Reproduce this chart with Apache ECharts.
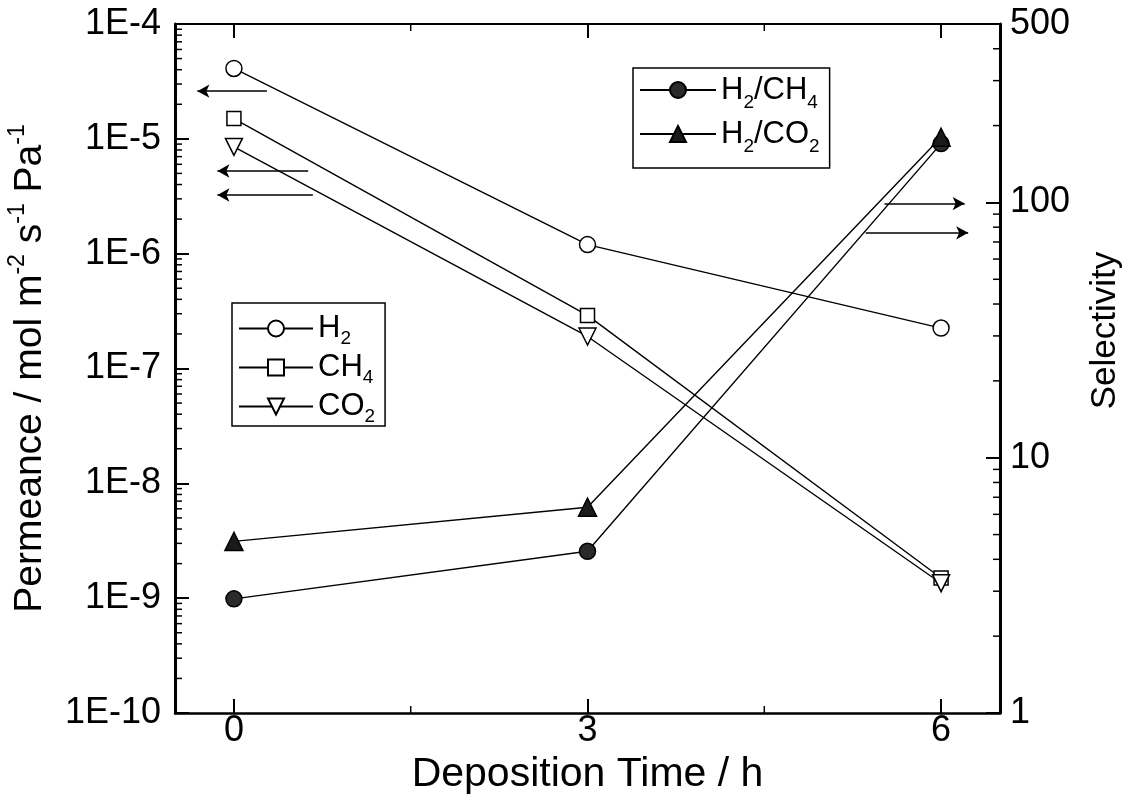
<!DOCTYPE html>
<html>
<head>
<meta charset="utf-8">
<script src="https://cdn.jsdelivr.net/npm/echarts@6/dist/echarts.min.js"></script>
<style>
  html, body { margin: 0; padding: 0; background: #fff; }
  #chart { width: 1130px; height: 808px; }
</style>
</head>
<body>
<div id="chart"></div>
<script>
// Deposition time (h)
const depositionTime = [0, 3, 6];

// Permeance (mol m-2 s-1 Pa-1), left log axis
const permeanceH2  = [4.1e-5, 1.2e-6, 2.25e-7];
const permeanceCH4 = [1.5e-5, 2.9e-7, 1.5e-9];
const permeanceCO2 = [8.5e-6, 1.9e-7, 1.35e-9];

// Selectivity, right log axis
const selectivityH2CH4 = [2.8, 4.3, 170];
const selectivityH2CO2 = [4.7, 6.4, 180];

// Axis ranges and tick values
const timeRange = [-0.5, 6.5];
const timeMajorTicks = [0, 3, 6];
const timeMinorTicks = [1.5, 4.5];
const permeanceRange = [1e-10, 1e-4];
const selectivityRange = [1, 500];

// Pointer arrows: which curves belong to which axis (data coordinates)
const leftArrows = [
  { from: [0.28, 2.6e-5], to: [-0.31, 2.6e-5] },
  { from: [0.63, 5.25e-6], to: [-0.14, 5.25e-6] },
  { from: [0.67, 3.24e-6], to: [-0.14, 3.24e-6] }
];
const rightArrows = [
  { from: [5.52, 99], to: [6.2, 99] },
  { from: [5.36, 76], to: [6.23, 76] }
];

// Logarithmic minor tick values (2..9 per decade) inside a range
function logMinorValues(lo, hi) {
  const out = [];
  for (let e = Math.floor(Math.log10(lo)); e <= Math.ceil(Math.log10(hi)); e++) {
    for (let k = 2; k <= 9; k++) {
      const v = k * Math.pow(10, e);
      if (v > lo * 1.0001 && v < hi * 0.9999) out.push(v);
    }
  }
  return out;
}

const FONT = "'Liberation Sans', Arial, Helvetica, sans-serif";
const BLACK = '#000';
const MINOR_LEN = 7;

const legendNames = {
  'H2': '{m|H}{sub|2}',
  'CH4': '{m|CH}{sub|4}',
  'CO2': '{m|CO}{sub|2}',
  'H2/CH4': '{m|H}{sub|2}{m|/CH}{sub|4}',
  'H2/CO2': '{m|H}{sub|2}{m|/CO}{sub|2}'
};

function pairs(xs, ys) { return xs.map((x, i) => [x, ys[i]]); }

function arrowData(list) {
  return list.map(a => [{ coord: a.from }, { coord: a.to }]);
}

const openStyle = { color: '#fff', borderColor: BLACK, borderWidth: 1.5 };
const lineStyle = { color: BLACK, width: 1.4 };

function legendText(lineH) {
  return {
    color: BLACK,
    fontFamily: FONT,
    fontSize: 31,
    lineHeight: lineH,
    rich: {
      m: { fontSize: 31, lineHeight: lineH, fontFamily: FONT, color: BLACK },
      sub: { fontSize: 19, lineHeight: 19, verticalAlign: 'bottom', fontFamily: FONT, color: BLACK }
    }
  };
}

const legendCommon = {
  orient: 'vertical',
  backgroundColor: '#fff',
  borderColor: BLACK,
  borderWidth: 1.5,
  borderRadius: 0,
  itemGap: 0,
  itemHeight: 20,
  inactiveColor: BLACK,
  selectedMode: false,
  formatter: name => legendNames[name]
};

const tickLabelStyle = { color: BLACK, fontFamily: FONT, fontSize: 36 };

const option = {
  animation: false,
  backgroundColor: '#fff',
  grid: { left: 175, right: 130, top: 24, bottom: 95, containLabel: false, outerBoundsMode: 'none' },
  legend: [
    Object.assign({}, legendCommon, {
      data: ['H2', 'CH4', 'CO2'],
      left: 232, top: 303,
      padding: [6, 10, 0, 6],
      itemWidth: 74,
      textStyle: legendText(39)
    }),
    Object.assign({}, legendCommon, {
      data: ['H2/CH4', 'H2/CO2'],
      left: 633, top: 68,
      padding: [0, 10, 12, 6],
      itemWidth: 76,
      textStyle: legendText(44)
    })
  ],
  xAxis: [
    {
      type: 'value',
      min: timeRange[0], max: timeRange[1],
      position: 'bottom',
      name: 'Deposition Time / h',
      nameLocation: 'middle',
      nameGap: 24,
      nameTextStyle: { color: BLACK, fontFamily: FONT, fontSize: 41 },
      axisLine: { show: true, onZero: false, lineStyle: { color: BLACK, width: 2.5 } },
      axisTick: { show: true, inside: true, length: 14, customValues: timeMajorTicks, lineStyle: { color: BLACK, width: 2 } },
      axisLabel: { show: true, margin: 0, customValues: timeMajorTicks, ...tickLabelStyle },
      splitLine: { show: false }
    },
    {
      type: 'value',
      min: timeRange[0], max: timeRange[1],
      position: 'top',
      axisLine: { show: true, onZero: false, lineStyle: { color: BLACK, width: 2 } },
      axisTick: { show: true, inside: true, length: 14, customValues: timeMajorTicks, lineStyle: { color: BLACK, width: 2 } },
      axisLabel: { show: false },
      splitLine: { show: false }
    }
  ],
  yAxis: [
    {
      type: 'log',
      logBase: 10,
      min: permeanceRange[0], max: permeanceRange[1],
      position: 'left',
      name: 'Permeance / mol m{sup|-2} s{sup|-1} Pa{sup|-1}',
      nameLocation: 'middle',
      nameRotate: 90,
      nameGap: 100,
      nameTextStyle: {
        color: BLACK, fontFamily: FONT, fontSize: 39, lineHeight: 48,
        rich: {
          sup: { fontSize: 23, lineHeight: 23, verticalAlign: 'top', fontFamily: FONT, color: BLACK }
        }
      },
      axisLine: { show: true, onZero: false, lineStyle: { color: BLACK, width: 3 } },
      axisTick: { show: true, inside: true, length: 14, lineStyle: { color: BLACK, width: 2 } },
      axisLabel: {
        show: true, margin: 14, ...tickLabelStyle,
        formatter: v => '1E' + Math.round(Math.log10(v))
      },
      splitLine: { show: false }
    },
    {
      type: 'log',
      logBase: 10,
      min: selectivityRange[0], max: selectivityRange[1],
      position: 'right',
      name: 'Selectivity',
      nameLocation: 'middle',
      nameRotate: 90,
      nameGap: 88,
      nameTextStyle: { color: BLACK, fontFamily: FONT, fontSize: 35, padding: [0, 0, 0, 76] },
      axisLine: { show: true, onZero: false, lineStyle: { color: BLACK, width: 3 } },
      axisTick: { show: true, inside: true, length: 14, lineStyle: { color: BLACK, width: 2 } },
      axisLabel: {
        show: true, margin: 10, ...tickLabelStyle,
        formatter: v => String(Math.round(v))
      },
      splitLine: { show: false }
    }
  ],
  series: [
    {
      name: 'H2', type: 'line', xAxisIndex: 0, yAxisIndex: 0,
      data: pairs(depositionTime, permeanceH2),
      symbol: 'circle', symbolSize: 16,
      itemStyle: openStyle, lineStyle: lineStyle, z: 3,
      markLine: {
        silent: true, animation: false,
        symbol: ['none', 'arrow'], symbolSize: [10, 12],
        lineStyle: { color: BLACK, width: 1.5, type: 'solid' },
        label: { show: false },
        data: arrowData(leftArrows)
      }
    },
    {
      name: 'CH4', type: 'line', xAxisIndex: 0, yAxisIndex: 0,
      data: pairs(depositionTime, permeanceCH4),
      symbol: 'rect', symbolSize: 14,
      itemStyle: openStyle, lineStyle: lineStyle, z: 3
    },
    {
      name: 'CO2', type: 'line', xAxisIndex: 0, yAxisIndex: 0,
      data: pairs(depositionTime, permeanceCO2),
      symbol: 'triangle', symbolRotate: 180, symbolSize: 17,
      itemStyle: openStyle, lineStyle: lineStyle, z: 3
    },
    {
      name: 'H2/CH4', type: 'line', xAxisIndex: 0, yAxisIndex: 1,
      data: pairs(depositionTime, selectivityH2CH4),
      symbol: 'circle', symbolSize: 16,
      itemStyle: { color: '#2a2a2a', borderColor: BLACK, borderWidth: 1.5 },
      lineStyle: lineStyle, z: 4,
      markLine: {
        silent: true, animation: false,
        symbol: ['none', 'arrow'], symbolSize: [10, 12],
        lineStyle: { color: BLACK, width: 1.5, type: 'solid' },
        label: { show: false },
        data: arrowData(rightArrows)
      }
    },
    {
      name: 'H2/CO2', type: 'line', xAxisIndex: 0, yAxisIndex: 1,
      data: pairs(depositionTime, selectivityH2CO2),
      symbol: 'triangle', symbolSize: 18,
      itemStyle: { color: '#1a1a1a', borderColor: BLACK, borderWidth: 1.5 },
      lineStyle: lineStyle, z: 4
    },
    // minor ticks on the permeance axis
    {
      type: 'custom', xAxisIndex: 0, yAxisIndex: 0, silent: true, z: 5,
      data: logMinorValues(permeanceRange[0], permeanceRange[1]).map(v => [timeRange[0], v]),
      renderItem: (params, api) => {
        const p = api.coord([api.value(0), api.value(1)]);
        return { type: 'line', shape: { x1: p[0], y1: p[1], x2: p[0] + MINOR_LEN, y2: p[1] },
                 style: { stroke: BLACK, lineWidth: 1.5 } };
      }
    },
    // minor ticks on the selectivity axis
    {
      type: 'custom', xAxisIndex: 0, yAxisIndex: 1, silent: true, z: 5,
      data: logMinorValues(selectivityRange[0], selectivityRange[1]).map(v => [timeRange[1], v]),
      renderItem: (params, api) => {
        const p = api.coord([api.value(0), api.value(1)]);
        return { type: 'line', shape: { x1: p[0], y1: p[1], x2: p[0] - MINOR_LEN, y2: p[1] },
                 style: { stroke: BLACK, lineWidth: 1.5 } };
      }
    },
    // minor ticks on the time axes (bottom and top)
    {
      type: 'custom', xAxisIndex: 0, yAxisIndex: 0, silent: true, z: 5,
      data: timeMinorTicks.map(t => [t, permeanceRange[0]]),
      renderItem: (params, api) => {
        const b = api.coord([api.value(0), permeanceRange[0]]);
        const t = api.coord([api.value(0), permeanceRange[1]]);
        return {
          type: 'group',
          children: [
            { type: 'line', shape: { x1: b[0], y1: b[1], x2: b[0], y2: b[1] - MINOR_LEN }, style: { stroke: BLACK, lineWidth: 1.5 } },
            { type: 'line', shape: { x1: t[0], y1: t[1], x2: t[0], y2: t[1] + MINOR_LEN }, style: { stroke: BLACK, lineWidth: 1.5 } }
          ]
        };
      }
    }
  ]
};

const chart = echarts.init(document.getElementById('chart'), null, { renderer: 'canvas' });
chart.setOption(option);
</script>
</body>
</html>
